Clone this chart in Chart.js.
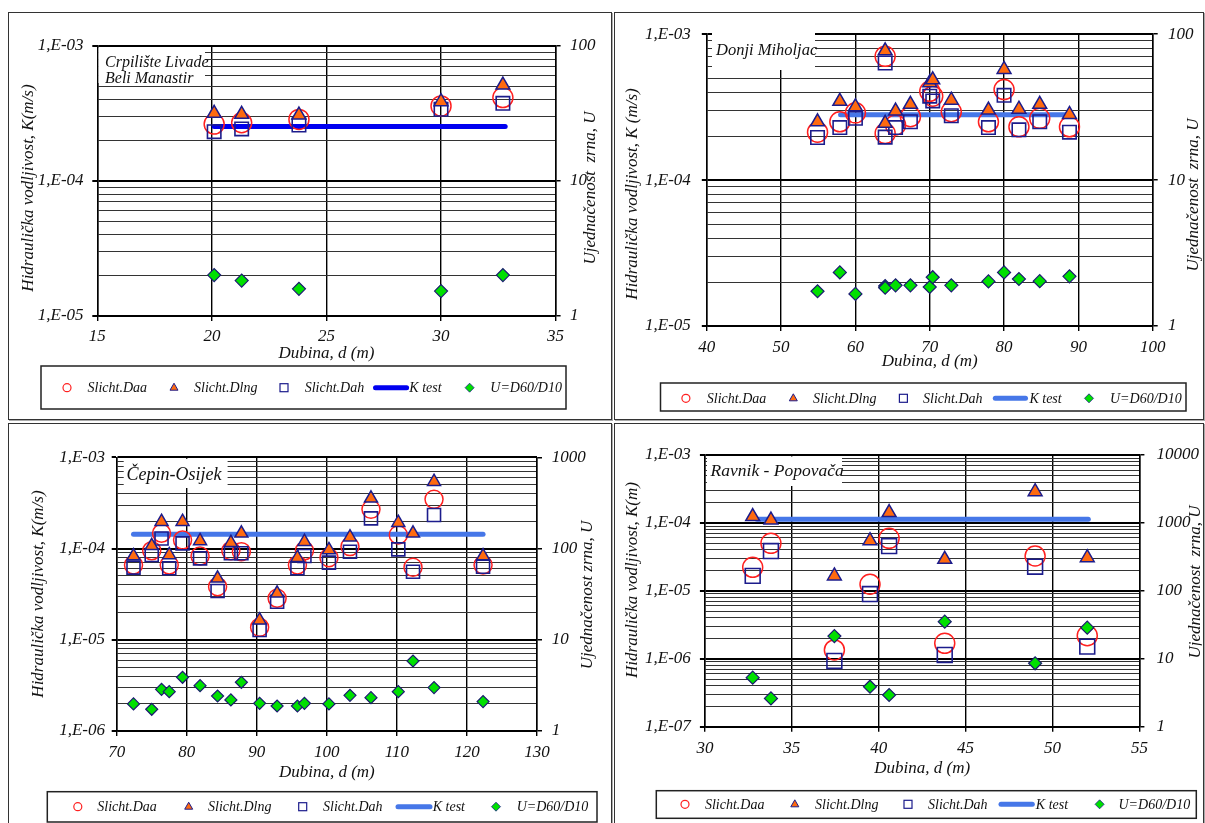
<!DOCTYPE html>
<html>
<head>
<meta charset="utf-8">
<script src="https://cdn.jsdelivr.net/npm/chart.js@4.4.0/dist/chart.umd.min.js"></script>
<style>
  body { margin: 0; background: #fff; width: 1205px; height: 823px; overflow: hidden; position: relative; }
  .frame { position: absolute; box-sizing: border-box; border: 1px solid #333; box-shadow: 1px 1px 0 #aaa; }
  canvas { position: absolute; }
</style>
</head>
<body>
<div class="frame" style="left:8px;top:12px;width:604px;height:408px"></div>
<div class="frame" style="left:614px;top:12px;width:590px;height:408px"></div>
<div class="frame" style="left:8px;top:423px;width:604px;height:420px"></div>
<div class="frame" style="left:614px;top:423px;width:590px;height:420px"></div>
<canvas id="c1"></canvas>
<canvas id="c2"></canvas>
<canvas id="c3"></canvas>
<canvas id="c4"></canvas>
<script>
// series names (same in every panel)
var seriesNames = ['Slicht.Daa', 'Slicht.Dlng', 'Slicht.Dah', 'K test', 'U=D60/D10'];

// Crpilište Livade - Beli Manastir
var depth1 = [20.1, 21.3, 23.8, 30.0, 32.7];
var daa1 = [2.64e-4, 2.70e-4, 2.86e-4, 3.60e-4, 4.15e-4];
var dlng1 = [3.17e-4, 3.12e-4, 3.08e-4, 3.87e-4, 5.14e-4];
var dah1 = [2.32e-4, 2.43e-4, 2.60e-4, 3.40e-4, 3.76e-4];
var u1 = [2.01, 1.83, 1.59, 1.53, 2.01];
var kDepth1 = [20.1, 32.8];
var kTest1 = [2.53e-4, 2.53e-4];

// Donji Miholjac
var depth2 = [54.9, 57.9, 60.0, 64.0, 64.0, 65.4, 67.4, 70.0, 70.4, 72.9, 77.9, 80.0, 82.0, 84.8, 88.8];
var daa2 = [2.13e-4, 2.51e-4, 2.89e-4, 7.05e-4, 2.09e-4, 2.39e-4, 2.72e-4, 4.06e-4, 3.76e-4, 2.94e-4, 2.51e-4, 4.17e-4, 2.32e-4, 2.65e-4, 2.32e-4];
var dlng2 = [2.51e-4, 3.47e-4, 3.18e-4, 7.7e-4, 2.45e-4, 2.97e-4, 3.31e-4, 4.65e-4, 4.87e-4, 3.53e-4, 3.02e-4, 5.73e-4, 3.06e-4, 3.31e-4, 2.82e-4];
var dah2 = [1.96e-4, 2.29e-4, 2.65e-4, 6.35e-4, 1.97e-4, 2.29e-4, 2.51e-4, 3.76e-4, 3.49e-4, 2.76e-4, 2.29e-4, 3.81e-4, 2.21e-4, 2.51e-4, 2.13e-4];
var u2 = [1.73, 2.33, 1.66, 1.88, 1.83, 1.90, 1.90, 1.85, 2.16, 1.90, 2.02, 2.33, 2.10, 2.03, 2.19];
var kDepth2 = [58, 89];
var kTest2 = [2.8e-4, 2.8e-4];

// Čepin-Osijek
var depth3 = [72.4, 75.0, 76.4, 77.5, 79.4, 81.9, 84.4, 86.3, 87.8, 90.4, 92.9, 95.8, 96.8, 100.3, 103.3, 106.3, 110.2, 112.3, 115.3, 122.3];
var daa3 = [6.6e-5, 9.46e-5, 1.47e-4, 6.6e-5, 1.24e-4, 8.28e-5, 3.82e-5, 9.46e-5, 9.23e-5, 1.37e-5, 2.85e-5, 6.6e-5, 9.46e-5, 7.94e-5, 1.05e-4, 2.69e-4, 1.41e-4, 6.22e-5, 3.46e-4, 6.6e-5];
var dlng3 = [8.28e-5, 1.07e-4, 1.97e-4, 8.5e-5, 1.97e-4, 1.21e-4, 4.72e-5, 1.16e-4, 1.47e-4, 1.64e-5, 3.23e-5, 7.94e-5, 1.19e-4, 9.64e-5, 1.33e-4, 3.55e-4, 1.92e-4, 1.47e-4, 5.41e-4, 8.28e-5];
var dah3 = [6.17e-5, 8.5e-5, 1.29e-4, 6.07e-5, 1.14e-4, 7.81e-5, 3.42e-5, 8.87e-5, 8.87e-5, 1.28e-5, 2.61e-5, 6.07e-5, 8.28e-5, 7.0e-5, 9.23e-5, 2.14e-4, 9.8e-5, 5.57e-5, 2.33e-4, 6.32e-5];
var u3 = [1.98, 1.73, 2.86, 2.70, 3.88, 3.14, 2.42, 2.19, 3.42, 2.01, 1.88, 1.88, 2.01, 1.98, 2.46, 2.32, 2.70, 5.85, 2.99, 2.10];
var kDepth3 = [72.4, 122.3];
var kTest3 = [1.43e-4, 1.43e-4];

// Ravnik - Popovača
var depth4 = [32.75, 33.8, 37.45, 39.5, 40.6, 43.8, 49.0, 52.0];
var daa4 = [2.22e-5, 5.0e-5, 1.35e-6, 1.25e-5, 5.93e-5, 1.69e-6, 3.26e-5, 2.19e-6];
var dlng4 = [1.24e-4, 1.10e-4, 1.66e-5, 5.48e-5, 1.42e-4, 2.91e-5, 2.88e-4, 3.08e-5];
var dah4 = [1.66e-5, 3.86e-5, 9.3e-7, 8.98e-6, 4.57e-5, 1.14e-6, 2.27e-5, 1.51e-6];
var u4 = [5.27, 2.61, 21.6, 3.88, 2.93, 35.2, 8.58, 28.7];
var kDepth4 = [33.0, 52.06];
var kTest4 = [1.13e-4, 1.13e-4];

var SERIF = '"Liberation Serif", "Times New Roman", serif';
var tickFont = { family: SERIF, style: 'italic', size: 17 };

function pts(xs, ys) {
  return xs.map(function (x, i) { return { x: x, y: ys[i] }; });
}
function isDecade(v) {
  var l = Math.log10(v);
  return Math.abs(l - Math.round(l)) < 1e-6;
}
// 1..9 per decade for the K axis
function logTicks(min, max) {
  var out = [];
  var e0 = Math.round(Math.log10(min)), e1 = Math.round(Math.log10(max));
  for (var e = e0; e < e1; e++) {
    for (var d = 1; d < 10; d++) out.push({ value: Number((d * Math.pow(10, e)).toPrecision(3)) });
  }
  out.push({ value: max });
  return out;
}
function decadeTicks(min, max) {
  var out = [];
  for (var e = Math.round(Math.log10(min)); e <= Math.round(Math.log10(max)); e++) out.push({ value: Math.pow(10, e) });
  return out;
}
function sciLabel(v) {
  var e = Math.round(Math.log10(v));
  var a = Math.abs(e);
  return '1,E' + (e < 0 ? '-' : '+') + (a < 10 ? '0' + a : a);
}

// layout of each panel, in page pixels
var panels = [
  { id: 'c1', canvas: { x: 9, y: 13, w: 601, h: 405 },
    area: { L: 97.3, T: 46, R: 555.6, B: 316 },
    xMin: 15, xMax: 35, xStep: 5, yMin: 1e-5, yMax: 1e-3, uMax: 100,
    xLabelY: 337, xTitleY: 354, leftLabelRight: 83.6, rightLabelLeft: 570,
    leftTitle: { x: 29, y: 188, text: 'Hidraulička vodljivost, K(m/s)' },
    rightTitle: { x: 591, y: 188, text: 'Ujednačenost  zrna, U' },
    kColor: '#0000f0', rCircle: 10, rTri: 8, rRect: 9.5, rDia: 6.5,
    legend: { l: 41, t: 366, r: 566, b: 409, y: 387.7, mx: [67, 174, 284, 373.5, 469.6], tx: [87.5, 194, 304.7, 409.3, 490.3], lineEnd: 408.6 },
    label: { l: 98.5, t: 47.5, r: 205, b: 83, x: 105, ys: [63, 79], size: 16, lines: ['Crpilište Livade', 'Beli Manastir'] },
    data: [depth1, daa1, dlng1, dah1, u1, kDepth1, kTest1] },
  { id: 'c2', canvas: { x: 615, y: 13, w: 587, h: 405 },
    area: { L: 706.8, T: 31.7, R: 1152.7, B: 326 },
    xMin: 40, xMax: 100, xStep: 10, yMin: 1e-5, yMax: 1e-3, uMax: 100,
    xLabelY: 347.7, xTitleY: 361.7, leftLabelRight: 690.8, rightLabelLeft: 1168,
    leftTitle: { x: 632.8, y: 194, text: 'Hidraulička vodljivost, K (m/s)' },
    rightTitle: { x: 1194, y: 195, text: 'Ujednačenost  zrna, U' },
    kColor: '#4677e8', rCircle: 10, rTri: 8, rRect: 9.5, rDia: 6.5,
    legend: { l: 660.5, t: 383, r: 1186, b: 411, y: 398.3, mx: [685.9, 793.3, 903.4, 993.3, 1089], tx: [706.8, 813, 923, 1029.4, 1110], lineEnd: 1027.5 },
    label: { l: 712, t: 33, r: 815, b: 70, x: 716, ys: [50.7], size: 16.5, lines: ['Donji Miholjac'] },
    data: [depth2, daa2, dlng2, dah2, u2, kDepth2, kTest2] },
  { id: 'c3', canvas: { x: 9, y: 424, w: 601, h: 399 },
    area: { L: 116.7, T: 457.3, R: 537, B: 731 },
    xMin: 70, xMax: 130, xStep: 10, yMin: 1e-6, yMax: 1e-3, uMax: 1000,
    xLabelY: 752.7, xTitleY: 772.3, leftLabelRight: 105, rightLabelLeft: 551.8,
    leftTitle: { x: 39, y: 594, text: 'Hidraulička vodljivost, K(m/s)' },
    rightTitle: { x: 587.5, y: 595, text: 'Ujednačenost zrna, U' },
    kColor: '#4677e8', rCircle: 9, rTri: 7.5, rRect: 9.2, rDia: 6,
    legend: { l: 47.3, t: 791.7, r: 597, b: 822, y: 806.7, mx: [77.8, 188.7, 302.7, 396, 496], tx: [97.3, 208, 323, 432.7, 516.7], lineEnd: 432 },
    label: { l: 123.7, t: 458.8, r: 227.6, b: 488, x: 126.5, ys: [475], size: 18, lines: ['Čepin-Osijek'] },
    data: [depth3, daa3, dlng3, dah3, u3, kDepth3, kTest3] },
  { id: 'c4', canvas: { x: 615, y: 424, w: 587, h: 399 },
    area: { L: 704.9, T: 455, R: 1139.4, B: 726.7 },
    xMin: 30, xMax: 55, xStep: 5, yMin: 1e-7, yMax: 1e-3, uMax: 10000,
    xLabelY: 748.3, xTitleY: 768.3, leftLabelRight: 690.8, rightLabelLeft: 1156.5,
    leftTitle: { x: 632.8, y: 580, text: 'Hidraulička vodljivost, K(m)' },
    rightTitle: { x: 1196, y: 582, text: 'Ujednačenost  zrna, U' },
    kColor: '#4677e8', rCircle: 10, rTri: 8, rRect: 10.5, rDia: 6.5,
    legend: { l: 656.3, t: 790.7, r: 1196.3, b: 818.3, y: 804.3, mx: [685, 794.8, 908, 999, 1099.6], tx: [704.9, 815, 928, 1035.8, 1118.5], lineEnd: 1034.3 },
    label: { l: 707, t: 456.5, r: 842, b: 486, x: 710.6, ys: [471.7], size: 17.5, lines: ['Ravnik - Popovača'] },
    data: [depth4, daa4, dlng4, dah4, u4, kDepth4, kTest4] }
];

var RED = '#ff2020', ORANGE = '#ff6a10', NAVY = '#1c1c8c', GREEN = '#00e000';

function drawMarker(ctx, k, x, y, p, x2) {
  ctx.save();
  if (k === 0) {
    ctx.strokeStyle = RED; ctx.lineWidth = 1.2;
    ctx.beginPath(); ctx.arc(x, y, 4, 0, Math.PI * 2); ctx.stroke();
  } else if (k === 1) {
    ctx.fillStyle = ORANGE; ctx.strokeStyle = NAVY; ctx.lineWidth = 1;
    ctx.beginPath(); ctx.moveTo(x, y - 4.5); ctx.lineTo(x + 4, y + 2.5); ctx.lineTo(x - 4, y + 2.5); ctx.closePath();
    ctx.fill(); ctx.stroke();
  } else if (k === 2) {
    ctx.strokeStyle = NAVY; ctx.lineWidth = 1.2;
    ctx.strokeRect(x - 4, y - 4, 8, 8);
  } else if (k === 3) {
    ctx.strokeStyle = p.kColor; ctx.lineWidth = 5; ctx.lineCap = 'round';
    ctx.beginPath(); ctx.moveTo(x + 2, y); ctx.lineTo(x2 - 2, y); ctx.stroke();
  } else {
    ctx.fillStyle = GREEN; ctx.strokeStyle = NAVY; ctx.lineWidth = 0.8;
    ctx.beginPath(); ctx.moveTo(x, y - 4.5); ctx.lineTo(x + 4.5, y); ctx.lineTo(x, y + 4.5); ctx.lineTo(x - 4.5, y); ctx.closePath();
    ctx.fill(); ctx.stroke();
  }
  ctx.restore();
}

function panelPlugin(p) {
  var ox = p.canvas.x, oy = p.canvas.y;
  return {
    id: 'panel',
    beforeDatasetsDraw: function (chart) {
      var ctx = chart.ctx, b = p.label;
      ctx.save();
      ctx.fillStyle = '#fff';
      ctx.fillRect(b.l - ox, b.t - oy, b.r - b.l, b.b - b.t);
      ctx.fillStyle = '#111';
      ctx.font = 'italic ' + b.size + 'px ' + SERIF;
      ctx.textBaseline = 'middle';
      b.lines.forEach(function (s, i) { ctx.fillText(s, b.x - ox, b.ys[i] - oy); });
      ctx.restore();
    },
    afterDraw: function (chart) {
      var ctx = chart.ctx;
      ctx.save();
      ctx.fillStyle = '#111';
      ctx.font = 'italic 17px ' + SERIF;
      ctx.textAlign = 'center';
      ctx.textBaseline = 'middle';
      [p.leftTitle, p.rightTitle].forEach(function (t) {
        ctx.save();
        ctx.translate(t.x - ox, t.y - oy);
        ctx.rotate(-Math.PI / 2);
        ctx.fillText(t.text, 0, 0);
        ctx.restore();
      });
      // legend
      var lg = p.legend;
      ctx.strokeStyle = '#222';
      ctx.lineWidth = 1.5;
      ctx.strokeRect(lg.l - ox, lg.t - oy, lg.r - lg.l, lg.b - lg.t);
      ctx.font = 'italic 14px ' + SERIF;
      ctx.textAlign = 'left';
      for (var k = 0; k < 5; k++) {
        drawMarker(ctx, k, lg.mx[k] - ox, lg.y - oy, p, lg.lineEnd - ox);
        ctx.fillStyle = '#111';
        ctx.fillText(seriesNames[k], lg.tx[k] - ox, lg.y - oy + 1);
      }
      ctx.restore();
    }
  };
}

function makeChart(p) {
  var cv = document.getElementById(p.id);
  cv.style.left = p.canvas.x + 'px';
  cv.style.top = p.canvas.y + 'px';
  cv.width = p.canvas.w;
  cv.height = p.canvas.h;
  var a = p.area, c = p.canvas;
  var leftW = a.L - c.x;
  var rightW = c.x + c.w - a.R;
  var xH = p.xTitleY + 10.2 - a.B;
  var d = p.data;

  new Chart(cv, {
    type: 'scatter',
    data: {
      datasets: [
        { label: seriesNames[4], data: pts(d[0], d[4]), yAxisID: 'u', order: 0,
          pointStyle: 'rectRot', pointRadius: p.rDia, pointBackgroundColor: GREEN, pointBorderColor: '#1a1a70', pointBorderWidth: 1.2 },
        { label: seriesNames[1], data: pts(d[0], d[2]), yAxisID: 'y', order: 1,
          pointStyle: 'triangle', pointRadius: p.rTri, pointBackgroundColor: ORANGE, pointBorderColor: NAVY, pointBorderWidth: 1.5 },
        { label: seriesNames[2], data: pts(d[0], d[3]), yAxisID: 'y', order: 2,
          pointStyle: 'rect', pointRadius: p.rRect, pointBackgroundColor: 'rgba(0,0,0,0)', pointBorderColor: NAVY, pointBorderWidth: 1.6 },
        { label: seriesNames[0], data: pts(d[0], d[1]), yAxisID: 'y', order: 3,
          pointStyle: 'circle', pointRadius: p.rCircle, pointBackgroundColor: 'rgba(0,0,0,0)', pointBorderColor: RED, pointBorderWidth: 1.5 },
        { label: seriesNames[3], data: pts(d[5], d[6]), yAxisID: 'y', order: 4, showLine: true,
          pointRadius: 0, borderColor: p.kColor, borderWidth: 5, borderCapStyle: 'round' }
      ]
    },
    options: {
      responsive: false,
      animation: false,
      devicePixelRatio: 1,
      events: [],
      layout: {
        autoPadding: false,
        padding: { left: 0, right: 0, top: a.T - c.y, bottom: (c.y + c.h) - (a.B + xH) }
      },
      plugins: { legend: { display: false }, tooltip: { enabled: false } },
      scales: {
        x: {
          type: 'linear', position: 'bottom', min: p.xMin, max: p.xMax,
          ticks: { stepSize: p.xStep, font: tickFont, color: '#111', padding: p.xLabelY - a.B - 5 - 10.2, maxRotation: 0 },
          grid: { color: '#000', lineWidth: 1.4, tickLength: 5 },
          border: { color: '#000', width: 1.5 },
          title: { display: true, text: 'Dubina, d (m)', font: tickFont, color: '#111', padding: 0 },
          afterFit: function (s) { s.height = xH; }
        },
        y: {
          type: 'logarithmic', position: 'left', min: p.yMin, max: p.yMax,
          afterBuildTicks: function (s) { s.ticks = logTicks(p.yMin, p.yMax); },
          ticks: {
            autoSkip: false, font: tickFont, color: '#111', padding: a.L - 5 - p.leftLabelRight,
            callback: function (v) { return isDecade(v) ? sciLabel(v) : ''; }
          },
          grid: {
            tickLength: 5,
            color: function (cx) { return cx.tick && isDecade(cx.tick.value) ? '#000' : '#333'; },
            lineWidth: function (cx) { return cx.tick && isDecade(cx.tick.value) ? 2 : 1; },
            tickColor: function (cx) { return cx.tick && isDecade(cx.tick.value) ? '#000' : 'rgba(0,0,0,0)'; }
          },
          border: { color: '#000', width: 1.5 },
          title: { display: false },
          afterFit: function (s) { s.width = leftW; }
        },
        u: {
          type: 'logarithmic', position: 'right', min: 1, max: p.uMax,
          afterBuildTicks: function (s) { s.ticks = decadeTicks(1, p.uMax); },
          ticks: {
            autoSkip: false, font: tickFont, color: '#111', padding: p.rightLabelLeft - a.R - 5,
            callback: function (v) { return String(Math.round(v)); }
          },
          grid: { drawOnChartArea: false, tickLength: 5, color: '#000', lineWidth: 1.5 },
          border: { color: '#000', width: 1.5 },
          title: { display: false },
          afterFit: function (s) { s.width = rightW; }
        }
      }
    },
    plugins: [panelPlugin(p)]
  });
}

panels.forEach(makeChart);
</script>
</body>
</html>
